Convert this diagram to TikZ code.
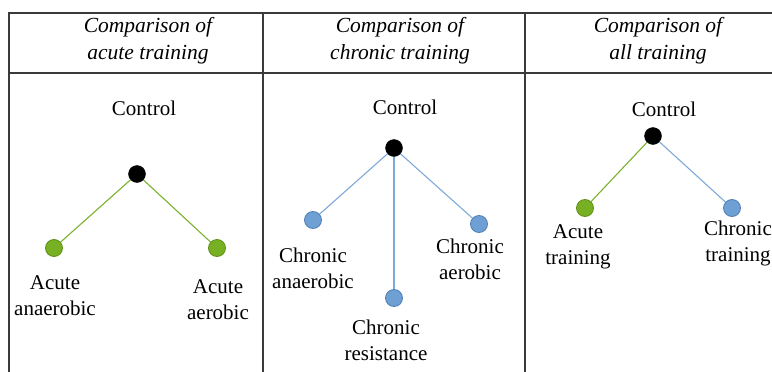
\documentclass[tikz,border=0pt]{standalone}
\usepackage{fontspec}
\setmainfont{Liberation Serif}
\definecolor{gfill}{HTML}{78B023}
\definecolor{gline}{HTML}{7AB22E}
\definecolor{gedge}{HTML}{5F8F1A}
\definecolor{bfill}{HTML}{6FA0D4}
\definecolor{bline}{HTML}{7EA9D8}
\definecolor{bedge}{HTML}{4F7FB5}
\definecolor{rule}{HTML}{3A3A3A}
\begin{document}
\begin{tikzpicture}[x=1pt,y=-1pt,
  txt/.style={font=\fontsize{21}{26}\selectfont, align=center, inner sep=0pt},
  head/.style={font=\fontsize{21.5}{27}\selectfont\itshape, align=center, inner sep=0pt},
  ctrl/.style={circle, fill=black, draw=black, minimum size=17pt, inner sep=0pt},
  gdot/.style={circle, fill=gfill, draw=gedge, line width=0.8pt, minimum size=17pt, inner sep=0pt},
  bdot/.style={circle, fill=bfill, draw=bedge, line width=0.8pt, minimum size=17pt, inner sep=0pt},
  glink/.style={draw=gline, line width=1.1pt},
  blink/.style={draw=bline, line width=1.1pt},
  tab/.style={draw=rule, line width=1.5pt}]
\useasboundingbox (0,0) rectangle (772,372);
% table rules
\draw[tab] (772,13) -- (9,13) -- (9,372);
\draw[tab] (9,73) -- (772,73);
\draw[tab] (263,13) -- (263,372);
\draw[tab] (525,13) -- (525,372);
% headers
\node[head] (h1) at (148,41) {Comparison of\\acute training};
\node[head] (h2) at (400,41) {Comparison of\\chronic training};
\node[head] (h3) at (658,41) {Comparison of\\all training};
% panel 1
\node[txt] (c1t) at (144,108) {Control};
\node[ctrl] (c1) at (137,174) {};
\node[gdot] (a1) at (54,248) {};
\node[gdot] (a2) at (217,248) {};
\draw[glink] (c1) -- (a1);
\draw[glink] (c1) -- (a2);
\node[txt] (a1t) at (55,296) {Acute\\anaerobic};
\node[txt] (a2t) at (218,300) {Acute\\aerobic};
% panel 2
\node[txt] (c2t) at (405,107) {Control};
\node[ctrl] (c2) at (394,148) {};
\node[bdot] (b1) at (313,220) {};
\node[bdot] (b2) at (479,224) {};
\node[bdot] (b3) at (394,298) {};
\draw[blink] (c2) -- (b1);
\draw[blink] (c2) -- (b2);
\draw[blink] (c2) -- (b3);
\node[txt] (b1t) at (313,268) {Chronic\\anaerobic};
\node[txt] (b2t) at (470,259) {Chronic\\aerobic};
\node[txt] (b3t) at (386,340) {Chronic\\resistance};
% panel 3
\node[txt] (c3t) at (664,109) {Control};
\node[ctrl] (c3) at (653,136) {};
\node[gdot] (d1) at (585,208) {};
\node[bdot] (d2) at (732,208) {};
\draw[glink] (c3) -- (d1);
\draw[blink] (c3) -- (d2);
\node[txt] (d1t) at (578,247) {Acute\\training};
\node[txt] (d2t) at (738,243) {Chronic\\training};
\end{tikzpicture}
\end{document}
